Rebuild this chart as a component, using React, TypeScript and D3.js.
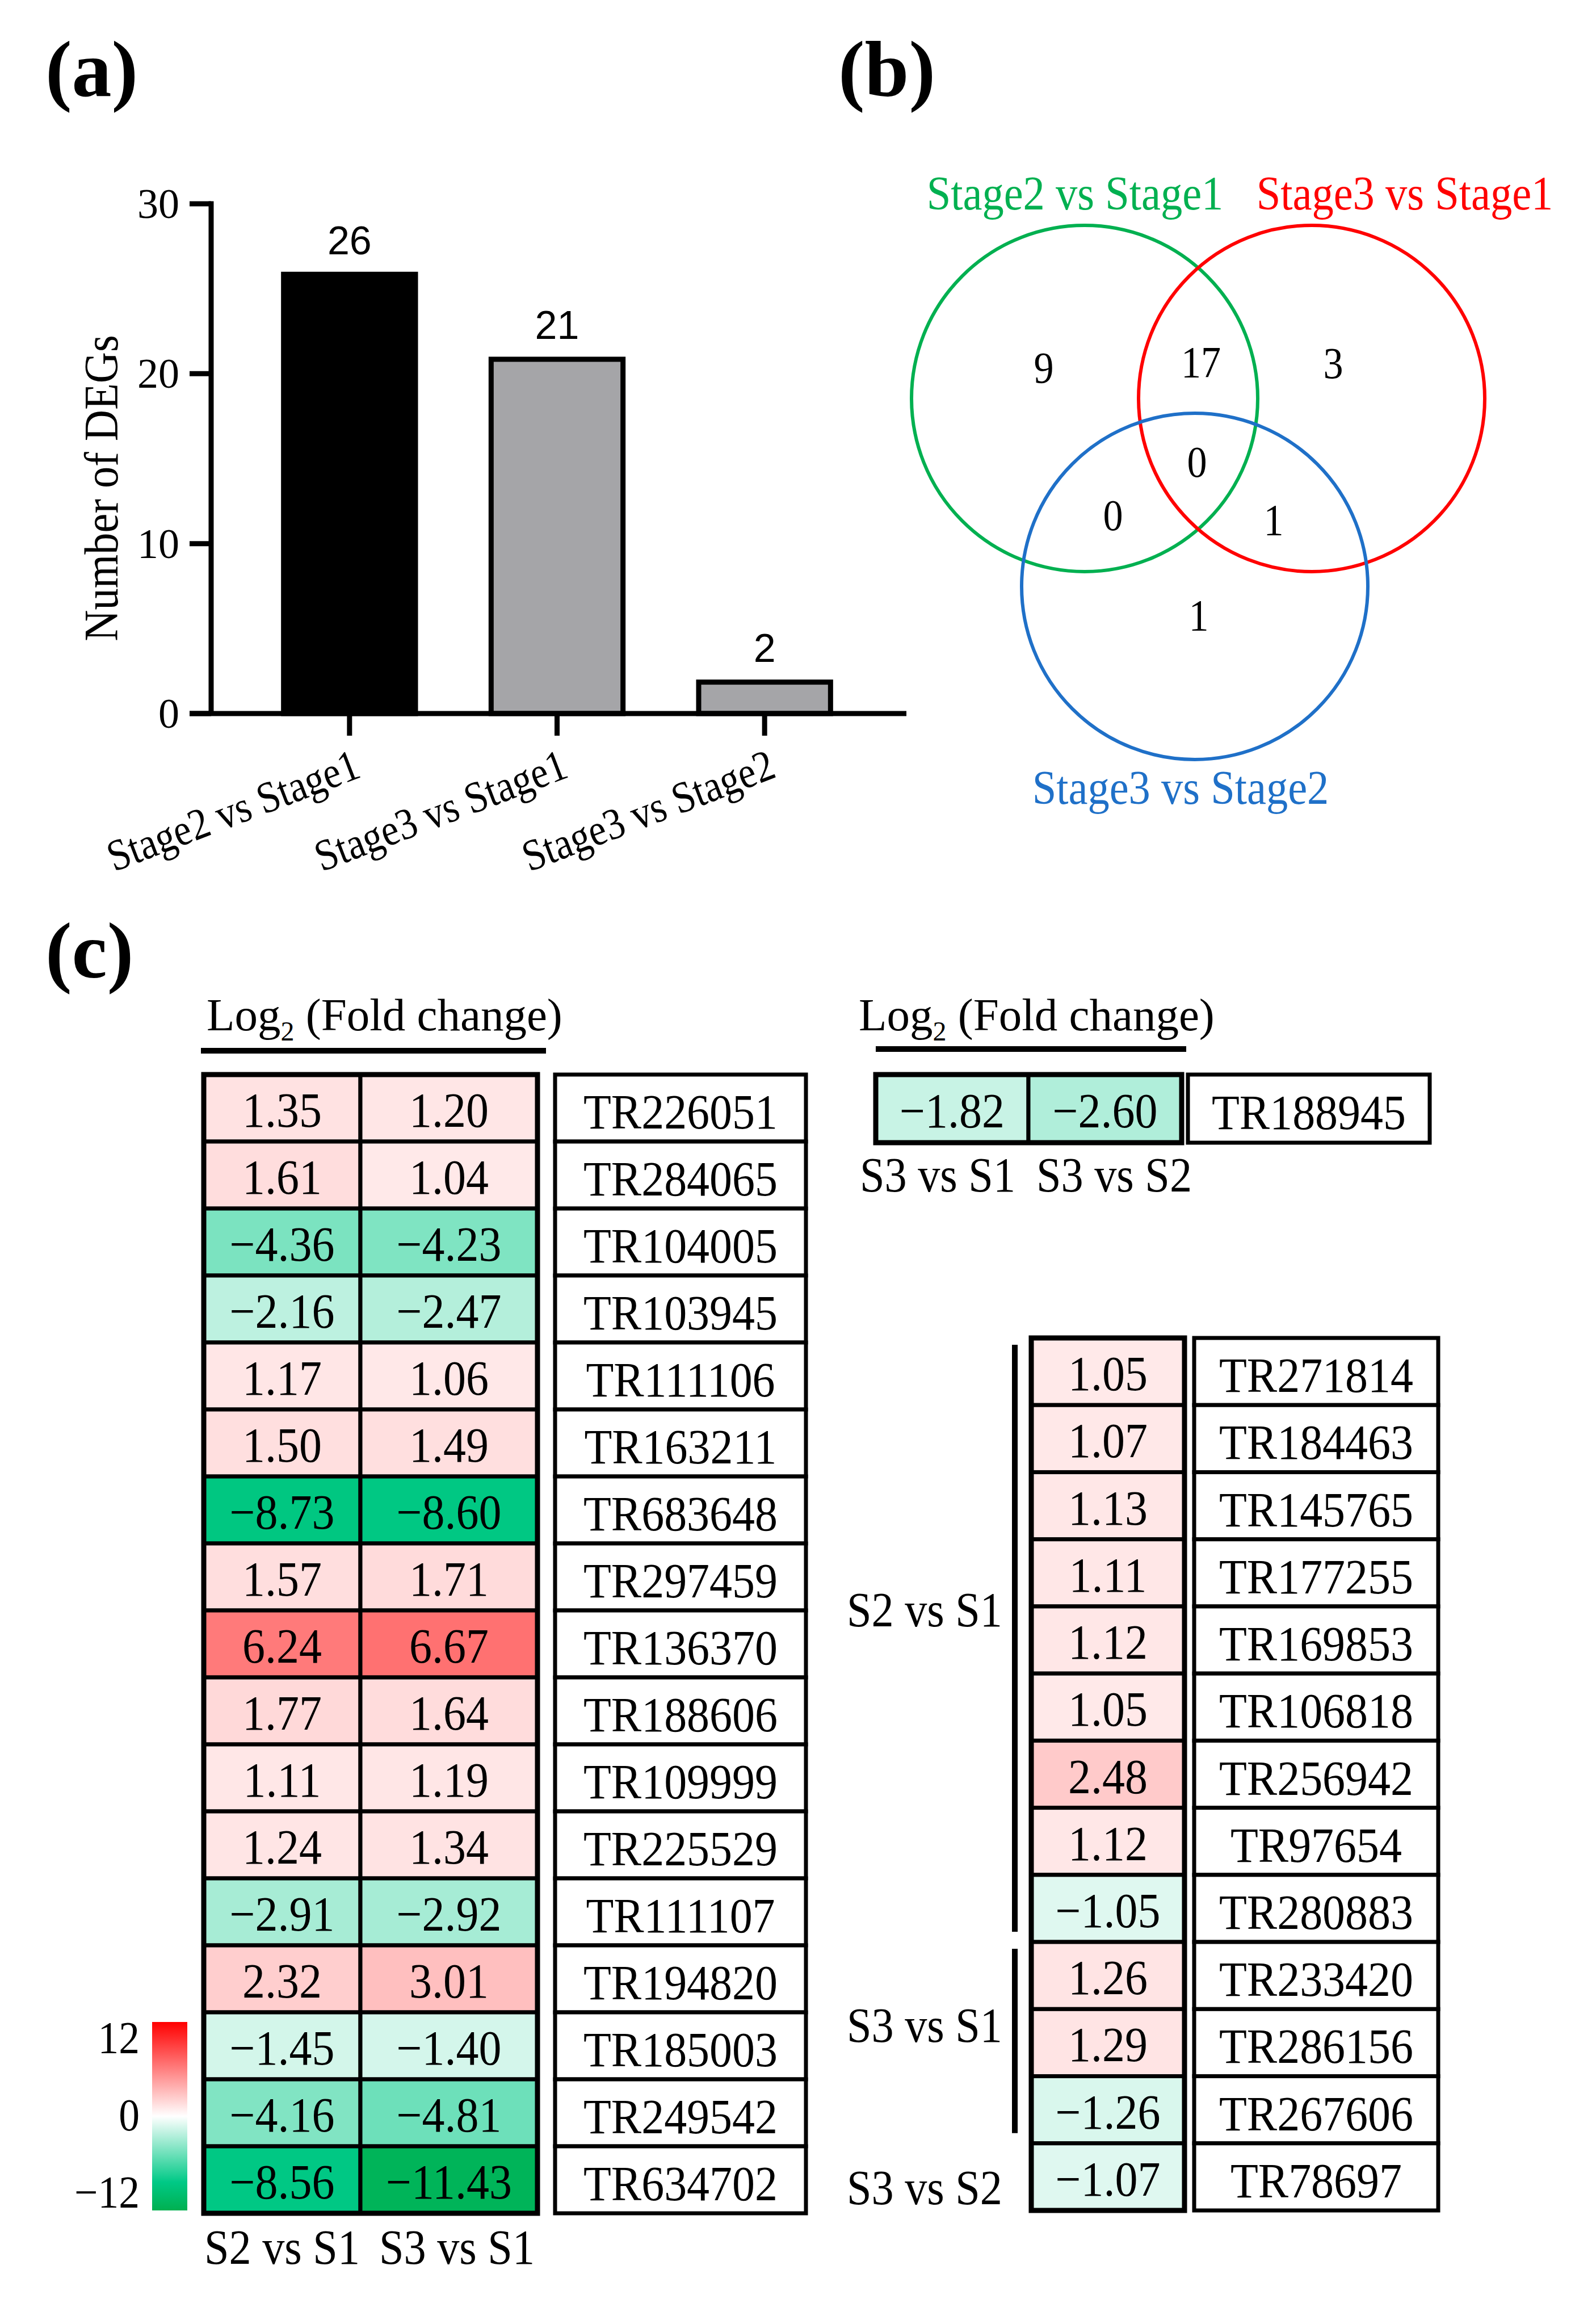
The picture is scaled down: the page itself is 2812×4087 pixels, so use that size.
import * as React from 'react';
import * as d3 from 'd3';

const WIDTH = 2812;
const HEIGHT = 4087;
const SERIF = '"Liberation Serif", "Times New Roman", serif';
const SANS = '"Liberation Sans", Arial, sans-serif';

// ---- (a) number of DEGs per comparison
const barCategories = ['Stage2 vs Stage1', 'Stage3 vs Stage1', 'Stage3 vs Stage2'];
const barValues = [26, 21, 2];
const barTicks = [0, 10, 20, 30];

// ---- (b) venn diagram: sets and region counts
const vennSetLabels = ['Stage2 vs Stage1', 'Stage3 vs Stage1', 'Stage3 vs Stage2'];
const vennRegionKeys = ['A', 'AB', 'B', 'ABC', 'AC', 'BC', 'C'];
const vennRegionCounts = [9, 17, 3, 0, 0, 1, 1];

// ---- (c) log2 fold change tables
const leftColumns = ['S2 vs S1', 'S3 vs S1'];
const leftGenes = [
	'TR226051', 'TR284065', 'TR104005', 'TR103945', 'TR111106', 'TR163211', 'TR683648', 'TR297459', 'TR136370',
	'TR188606', 'TR109999', 'TR225529', 'TR111107', 'TR194820', 'TR185003', 'TR249542', 'TR634702',
];
const leftS2vsS1 = [1.35, 1.61, -4.36, -2.16, 1.17, 1.5, -8.73, 1.57, 6.24, 1.77, 1.11, 1.24, -2.91, 2.32, -1.45, -4.16, -8.56];
const leftS3vsS1 = [1.2, 1.04, -4.23, -2.47, 1.06, 1.49, -8.6, 1.71, 6.67, 1.64, 1.19, 1.34, -2.92, 3.01, -1.4, -4.81, -11.43];

const topColumns = ['S3 vs S1', 'S3 vs S2'];
const topGenes = ['TR188945'];
const topS3vsS1 = [-1.82];
const topS3vsS2 = [-2.6];

const rightGenes = [
	'TR271814', 'TR184463', 'TR145765', 'TR177255', 'TR169853', 'TR106818', 'TR256942', 'TR97654', 'TR280883',
	'TR233420', 'TR286156', 'TR267606', 'TR78697',
];
const rightValues = [1.05, 1.07, 1.13, 1.11, 1.12, 1.05, 2.48, 1.12, -1.05, 1.26, 1.29, -1.26, -1.07];
const rightGroups = [
	'S2 vs S1', 'S2 vs S1', 'S2 vs S1', 'S2 vs S1', 'S2 vs S1', 'S2 vs S1', 'S2 vs S1', 'S2 vs S1', 'S2 vs S1',
	'S3 vs S1', 'S3 vs S1', 'S3 vs S1', 'S3 vs S2',
];

const legendTicks = [12, 0, -12];
const colorDomain = [-12, -8.4, 0, 12];
const colorRange = ['#00b050', '#00c986', '#ffffff', '#ff0000'];

// styles
const barFills = ['#000000', '#a5a5a8', '#a5a5a8'];
const vennColors = ['#00b050', '#ff0000', '#1f70c8'];

type Sel = d3.Selection<any, any, any, any>;

const fmt = d3.format('.2f');
const color = d3.scaleLinear<string>().domain(colorDomain).range(colorRange).clamp(true);

// the original uses a narrow serif: emulate it by squeezing along the text direction
function squeezed(parent: Sel, text: string, x: number, y: number, size: number, opts: { anchor?: string; rotate?: number; sx?: number; fill?: string } = {}) {
	const sx = opts.sx ?? 0.91;
	return parent
		.append('text')
		.attr('transform', `translate(${x},${y}) rotate(${opts.rotate ?? 0}) scale(${sx},1)`)
		.attr('text-anchor', opts.anchor ?? 'middle')
		.attr('font-family', SERIF)
		.attr('font-size', size)
		.attr('fill', opts.fill ?? '#000')
		.text(text);
}

function panelLabel(svg: Sel, text: string, x: number, y: number) {
	svg.append('text')
		.attr('x', x)
		.attr('y', y)
		.attr('font-family', SERIF)
		.attr('font-weight', 'bold')
		.attr('font-size', 140)
		.text(text);
}

function drawBars(svg: Sel) {
	const y = d3.scaleLinear().domain([0, 30]).range([1257, 359]);
	const x = d3.scaleBand<string>().domain(barCategories).range([433, 1530]).paddingInner(0.34).paddingOuter(0.17);
	const cx = (d: string) => (x(d) as number) + x.bandwidth() / 2;
	const g = svg.append('g');
	const sw = 9;

	// bars, stroked black
	g.selectAll('rect.bar')
		.data(barCategories)
		.enter()
		.append('rect')
		.attr('x', (d) => (x(d) as number) + sw / 2)
		.attr('width', x.bandwidth() - sw)
		.attr('y', (d, i) => y(barValues[i]) + sw / 2)
		.attr('height', (d, i) => y(0) - y(barValues[i]) - sw / 2)
		.attr('fill', (d, i) => barFills[i])
		.attr('stroke', '#000')
		.attr('stroke-width', sw);

	// value labels above bars
	g.selectAll('text.val')
		.data(barCategories)
		.enter()
		.append('text')
		.attr('x', cx)
		.attr('y', (d, i) => y(barValues[i]) - 31)
		.attr('text-anchor', 'middle')
		.attr('font-family', SANS)
		.attr('font-size', 70)
		.text((d, i) => String(barValues[i]));

	// y axis
	g.append('line').attr('x1', 372).attr('x2', 372).attr('y1', y(30) - sw / 2).attr('y2', y(0)).attr('stroke', '#000').attr('stroke-width', sw);
	g.selectAll('line.ytick')
		.data(barTicks)
		.enter()
		.append('line')
		.attr('x1', 334)
		.attr('x2', 372)
		.attr('y1', (d) => y(d))
		.attr('y2', (d) => y(d))
		.attr('stroke', '#000')
		.attr('stroke-width', sw);
	g.selectAll('text.ytick')
		.data(barTicks)
		.enter()
		.append('text')
		.attr('x', 316)
		.attr('y', (d) => y(d) + 25)
		.attr('text-anchor', 'end')
		.attr('font-family', SERIF)
		.attr('font-size', 74)
		.text((d) => String(d));

	// x axis
	g.append('line').attr('x1', 334).attr('x2', 1597).attr('y1', y(0)).attr('y2', y(0)).attr('stroke', '#000').attr('stroke-width', sw);
	g.selectAll('line.xtick')
		.data(barCategories)
		.enter()
		.append('line')
		.attr('x1', cx)
		.attr('x2', cx)
		.attr('y1', y(0))
		.attr('y2', y(0) + 39)
		.attr('stroke', '#000')
		.attr('stroke-width', sw);
	barCategories.forEach((d) => {
		squeezed(g, d, cx(d) + 23, y(0) + 111, 78, { anchor: 'end', rotate: -21, sx: 0.88 });
	});

	// y axis title
	squeezed(g, 'Number of DEGs', 207, 860, 85, { rotate: -90, sx: 0.9 });
}

function drawVenn(svg: Sel) {
	const g = svg.append('g');
	const r = 305;
	const centers: [number, number][] = [[1911, 702], [2311, 702], [2105, 1033]];
	const labelPos: [number, number][] = [[1894, 369], [2475, 369], [2080, 1416]];
	const regionPos: { [k: string]: [number, number] } = {
		A: [1839, 648], AB: [2116, 638], B: [2349, 640], ABC: [2109, 814], AC: [1961, 908], BC: [2244, 916], C: [2112, 1084],
	};

	g.selectAll('circle')
		.data(vennSetLabels)
		.enter()
		.append('circle')
		.attr('cx', (d, i) => centers[i][0])
		.attr('cy', (d, i) => centers[i][1])
		.attr('r', r)
		.attr('fill', 'none')
		.attr('stroke', (d, i) => vennColors[i])
		.attr('stroke-width', 6);

	vennSetLabels.forEach((d, i) => {
		squeezed(g, d, labelPos[i][0], labelPos[i][1], 85, { sx: 0.9, fill: vennColors[i] });
	});

	vennRegionKeys.forEach((k, i) => {
		squeezed(g, String(vennRegionCounts[i]), regionPos[k][0], regionPos[k][1] + 26, 78, { sx: 0.9 });
	});
}

function drawHeader(svg: Sel, x: number, baseline: number, lineX1: number, lineX2: number, lineY: number) {
	const t = svg.append('text').attr('x', x).attr('y', baseline).attr('font-family', SERIF).attr('font-size', 81);
	t.append('tspan').text('Log');
	t.append('tspan').attr('font-size', 48).attr('dy', 18).text('2');
	t.append('tspan').attr('dy', -18).text(' (Fold change)');
	svg.append('rect').attr('x', lineX1).attr('y', lineY - 5).attr('width', lineX2 - lineX1).attr('height', 10).attr('fill', '#000');
}

// draws a block of coloured value cells plus the gene id boxes next to it
function drawTable(
	svg: Sel,
	genes: string[],
	columns: number[][],
	colEdges: number[],
	rowRange: [number, number],
	idBox: [number, number],
) {
	const g = svg.append('g');
	const y = d3.scaleBand<string>().domain(genes).range(rowRange);
	const rowH = y.bandwidth();

	columns.forEach((vals, c) => {
		const x0 = colEdges[c];
		const w = colEdges[c + 1] - colEdges[c];
		g.selectAll(`rect.col${c}`)
			.data(genes)
			.enter()
			.append('rect')
			.attr('x', x0)
			.attr('y', (d) => y(d) as number)
			.attr('width', w)
			.attr('height', rowH)
			.attr('fill', (d, i) => color(vals[i]))
			.attr('stroke', '#000')
			.attr('stroke-width', 7);
		genes.forEach((d, i) => {
			squeezed(g, fmt(vals[i]), x0 + w / 2, (y(d) as number) + rowH / 2 + 33, 86, { sx: 0.93 });
		});
	});
	// thicker outer border
	g.append('rect')
		.attr('x', colEdges[0])
		.attr('y', rowRange[0])
		.attr('width', colEdges[colEdges.length - 1] - colEdges[0])
		.attr('height', rowRange[1] - rowRange[0])
		.attr('fill', 'none')
		.attr('stroke', '#000')
		.attr('stroke-width', 9);

	// gene id boxes
	g.selectAll('rect.id')
		.data(genes)
		.enter()
		.append('rect')
		.attr('x', idBox[0])
		.attr('y', (d) => y(d) as number)
		.attr('width', idBox[1] - idBox[0])
		.attr('height', rowH)
		.attr('fill', '#fff')
		.attr('stroke', '#000')
		.attr('stroke-width', 7);
	genes.forEach((d) => {
		squeezed(g, d, (idBox[0] + idBox[1]) / 2, (y(d) as number) + rowH / 2 + 36, 86, { sx: 0.93 });
	});
	return y;
}

function columnLabels(svg: Sel, labels: string[], centers: number[], baseline: number) {
	labels.forEach((d, i) => {
		squeezed(svg, d, centers[i], baseline, 86, { sx: 0.91 });
	});
}

function drawHeatmaps(svg: Sel) {
	// left block
	drawHeader(svg, 364, 1815, 354, 962, 1851);
	const leftEdges = [359, 635, 947];
	drawTable(svg, leftGenes, [leftS2vsS1, leftS3vsS1], leftEdges, [1893, 3899], [978, 1420]);
	columnLabels(svg, leftColumns, [497, 805], 3988);

	// top right block
	drawHeader(svg, 1513, 1815, 1543, 2090, 1848);
	const topEdges = [1543, 1812, 2082];
	drawTable(svg, topGenes, [topS3vsS1, topS3vsS2], topEdges, [1893, 2013], [2093, 2519]);
	columnLabels(svg, topColumns, [1652, 1963], 2099);

	// right block grouped by comparison
	const y = drawTable(svg, rightGenes, [rightValues], [1817, 2087], [2357, 3894], [2104, 2534]);
	const groups = Array.from(new Set(rightGroups));
	const labelDy = [-24, -1, 48];
	groups.forEach((grp, k) => {
		const members = rightGenes.filter((d, i) => rightGroups[i] === grp);
		const top = y(members[0]) as number;
		const bottom = (y(members[members.length - 1]) as number) + y.bandwidth();
		if (members.length > 1) {
			svg.append('rect').attr('x', 1783).attr('y', top + 12).attr('width', 10).attr('height', bottom - top - 30).attr('fill', '#000');
		}
		squeezed(svg, grp, 1766, (top + bottom) / 2 + labelDy[k], 86, { anchor: 'end', sx: 0.91 });
	});

	// colour legend
	const defs = svg.append('defs');
	const grad = defs.append('linearGradient').attr('id', 'fcGrad').attr('x1', 0).attr('x2', 0).attr('y1', 0).attr('y2', 1);
	const off = d3.scaleLinear().domain([12, -12]).range([0, 1]);
	colorDomain
		.slice()
		.reverse()
		.forEach((v) => {
			grad.append('stop').attr('offset', off(v)).attr('stop-color', color(v));
		});
	svg.append('rect').attr('x', 268).attr('y', 3562).attr('width', 62).attr('height', 332).attr('fill', 'url(#fcGrad)');
	const ly = d3.scaleLinear().domain([12, -12]).range([3590, 3862]);
	legendTicks.forEach((d) => {
		squeezed(svg, d < 0 ? '\u2212' + Math.abs(d) : String(d), 246, ly(d) + 27, 80, { anchor: 'end', sx: 0.92 });
	});
}

export default function App() {
	const ref = React.useRef<SVGSVGElement>(null);

	React.useEffect(() => {
		const svg = d3.select(ref.current);
		svg.selectAll('*').remove();
		svg.append('rect').attr('width', WIDTH).attr('height', HEIGHT).attr('fill', '#fff');
		panelLabel(svg, '(a)', 80, 169);
		panelLabel(svg, '(b)', 1477, 169);
		panelLabel(svg, '(c)', 80, 1722);
		drawBars(svg);
		drawVenn(svg);
		drawHeatmaps(svg);
	}, []);

	return (
		<>
			<style>{'body{margin:0}'}</style>
			<svg ref={ref} width={WIDTH} height={HEIGHT} viewBox={`0 0 ${WIDTH} ${HEIGHT}`} style={{ display: 'block' }} />
		</>
	);
}
